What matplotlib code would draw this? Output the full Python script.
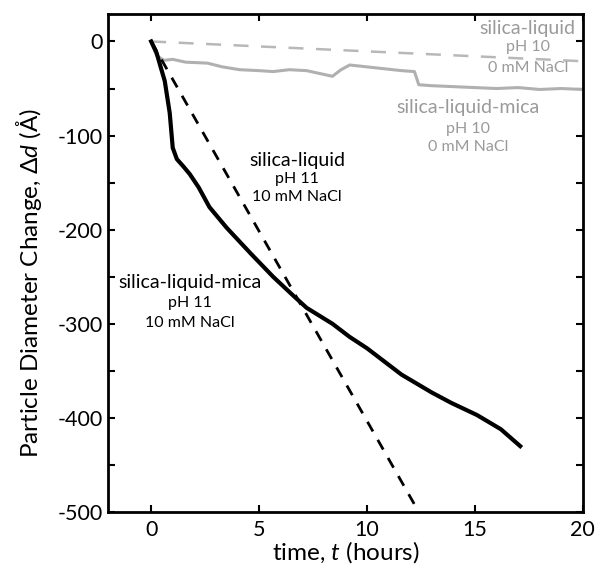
import numpy as np
import matplotlib.pyplot as plt
from matplotlib.ticker import MultipleLocator

plt.rcParams['font.family'] = ['Lato', 'DejaVu Sans']
plt.rcParams['axes.unicode_minus'] = False
plt.rcParams['mathtext.fontset'] = 'custom'
plt.rcParams['mathtext.it'] = 'Lato:italic'
plt.rcParams['mathtext.rm'] = 'Lato'

# silica-liquid-mica, pH 11, 10 mM NaCl (solid black)
t_mica11 = [0, 0.25, 0.4, 0.63, 0.86, 1.0, 1.19, 1.5, 1.79, 2.2, 2.7, 3.5, 4.6, 5.65,
            6.58, 7.2, 8.4, 9.2, 10.0, 11.6, 13.0, 13.9, 15.1, 16.2, 17.1]
d_mica11 = [0, -12, -24, -42, -76, -113, -125, -133, -141, -155, -176, -198, -225, -250,
            -270, -283, -300, -314, -326, -354, -373, -384, -397, -412, -430]

# silica-liquid, pH 11, 10 mM NaCl (dashed black)
t_liq11 = [0, 12.45]
d_liq11 = [0, -502]

# silica-liquid, pH 10, 0 mM NaCl (dashed grey)
t_liq10 = [0, 20]
d_liq10 = [0, -21]

# silica-liquid-mica, pH 10, 0 mM NaCl (solid grey)
t_mica10 = [0, 0.25, 0.6, 1.0, 1.6, 2.6, 3.3, 4.1, 5.0, 5.65, 6.4, 7.2, 7.8, 8.4, 8.8,
            9.2, 10.0, 10.8, 11.6, 12.2, 12.4, 13.0, 14.0, 15.0, 16.0, 17.0, 18.0, 19.0, 20.0]
d_mica10 = [0, -15, -20, -19, -22, -23, -27, -30, -31, -32, -30, -31, -34, -37, -30,
            -25, -27, -29, -31, -32, -46, -47, -48, -49, -50, -49, -51, -50, -51]

fig = plt.figure(figsize=(5.95, 5.67), dpi=100)
ax = fig.add_axes([0.1815, 0.097, 0.798, 0.878])

ax.plot(t_liq10, d_liq10, color='#b8b8b8', lw=1.8, ls=(0, (6, 5)))
ax.plot(t_mica10, d_mica10, color='#b0b0b0', lw=2.2)
ax.plot(t_liq11, d_liq11, color='black', lw=2, ls=(0, (4, 3.5)))
ax.plot(t_mica11, d_mica11, color='black', lw=3)

ax.set_xlim(-2, 20)
ax.set_ylim(-500, 29)
ax.xaxis.set_major_locator(MultipleLocator(5))
ax.yaxis.set_major_locator(MultipleLocator(100))
ax.yaxis.set_minor_locator(MultipleLocator(50))
ax.tick_params(which='both', direction='in', top=True, right=True, width=1.5,
               labelsize=15.5, length=5)
ax.tick_params(axis='y', pad=4)
ax.tick_params(axis='x', pad=6)
for s in ax.spines.values():
    s.set_linewidth(2)

ax.set_xlabel('time, $t$ (hours)', fontsize=17.5, labelpad=-1)
ax.set_ylabel('Particle Diameter Change, $\\Delta d$ (Å)', fontsize=17.5)
ax.yaxis.set_label_coords(-0.135, 0.46)

grey = '#9a9a9a'
big, small = 14, 11.5
ax.text(17.45, 14, 'silica-liquid', color=grey, fontsize=big, ha='center', va='center')
ax.text(17.45, -6, 'pH 10', color=grey, fontsize=small, ha='center', va='center')
ax.text(17.45, -28, '0 mM NaCl', color=grey, fontsize=small, ha='center', va='center')

ax.text(14.7, -70, 'silica-liquid-mica', color=grey, fontsize=big, ha='center', va='center')
ax.text(14.7, -93, 'pH 10', color=grey, fontsize=small, ha='center', va='center')
ax.text(14.7, -112, '0 mM NaCl', color=grey, fontsize=small, ha='center', va='center')

ax.text(6.77, -127, 'silica-liquid', color='black', fontsize=big, ha='center', va='center')
ax.text(6.77, -146, 'pH 11', color='black', fontsize=small, ha='center', va='center')
ax.text(6.77, -165, '10 mM NaCl', color='black', fontsize=small, ha='center', va='center')

ax.text(1.8, -256, 'silica-liquid-mica', color='black', fontsize=big, ha='center', va='center')
ax.text(1.8, -278, 'pH 11', color='black', fontsize=small, ha='center', va='center')
ax.text(1.8, -299, '10 mM NaCl', color='black', fontsize=small, ha='center', va='center')

fig.savefig('out.png', dpi=100)
